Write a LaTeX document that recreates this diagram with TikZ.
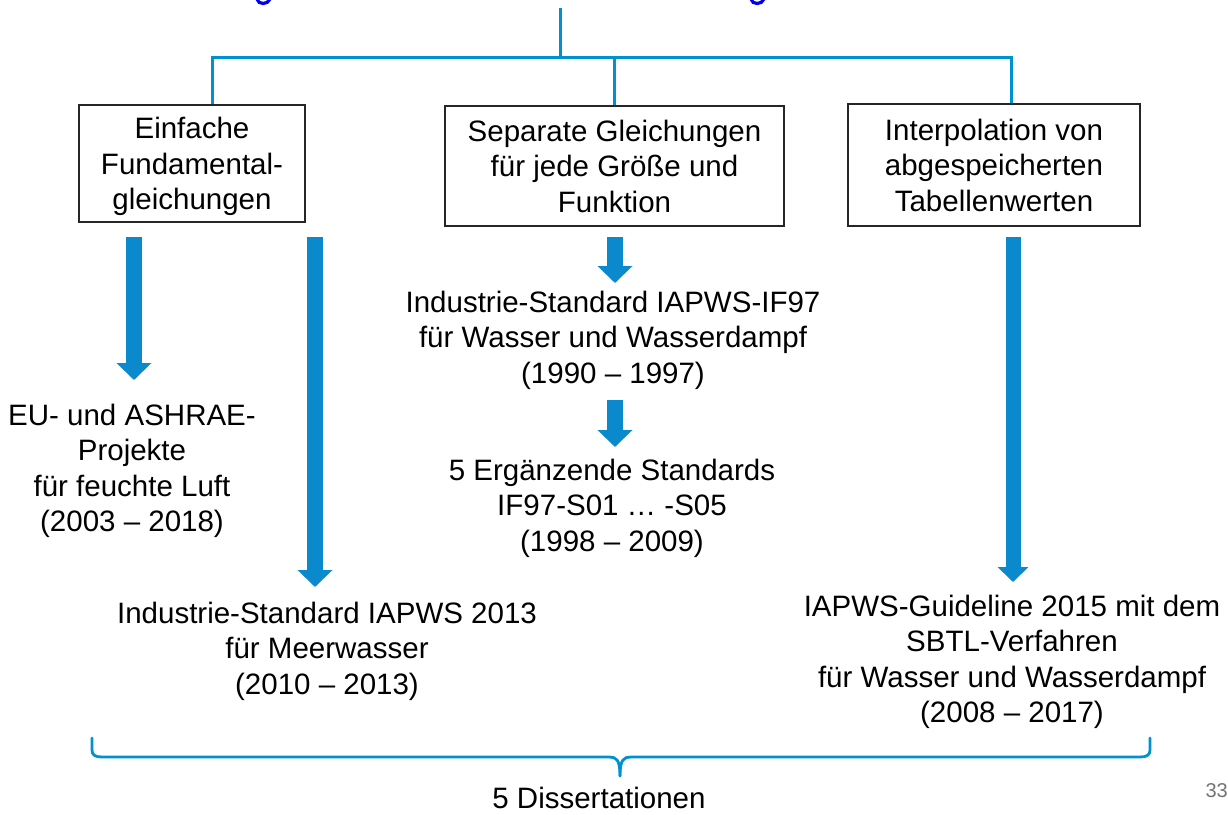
\documentclass[tikz,border=0pt]{standalone}
\usepackage{fontspec}
\setmainfont{Liberation Sans}
\usetikzlibrary{arrows.meta}
\definecolor{lineblue}{RGB}{0,145,208}
\definecolor{arrowblue}{RGB}{10,137,204}
\definecolor{titleblue}{RGB}{0,0,240}
\tikzset{
  every node/.style={font=\fontsize{29.5}{35.5}\selectfont, align=center, inner sep=0pt},
  treeline/.style={draw=lineblue, line width=3pt},
  catbox/.style={draw=black!85, line width=1.3pt, fill=white},
  fat/.style={draw=arrowblue, line width=16pt, -{Triangle[width=34pt,length=17pt]}},
  bracestyle/.style={draw=lineblue, line width=2.8pt, line cap=round, line join=round},
}
\begin{document}
\begin{tikzpicture}[x=1pt,y=-1pt]
\useasboundingbox (0,0) rectangle (1228,814);
% cut-off title descenders
\draw[titleblue, line width=3.2pt] (257,-1) .. controls (258,5) and (268,5) .. (270,-1);
\draw[titleblue, line width=3.2pt] (751,-1) .. controls (752,5) and (762,5) .. (764,-1);

% boxes
\node[catbox, minimum width=226pt, minimum height=117pt] (b1) at (192,163.5) {};
\node (b1t) at (192,166.5) {Einfache\\Fundamental-\\gleichungen};
\node[catbox, minimum width=339pt, minimum height=120pt] (b2) at (614.5,166)
  {Separate Gleichungen\\für jede Größe und\\Funktion};
\node[catbox, minimum width=292pt, minimum height=122pt] (b3) at (994,165)
  {Interpolation von\\abgespeicherten\\Tabellenwerten};

% tree connectors
\coordinate (top) at (560,8);
\coordinate (hub) at (560,57);
\coordinate (jl) at (212,57);
\coordinate (jm) at (614,57);
\coordinate (jr) at (1011,57);
\draw[treeline] (top) -- (hub);
\draw[treeline] ([xshift=-1.5pt]jl) -- ([xshift=1.5pt]jr);
\draw[treeline] (jl) -- (jl |- b1.north);
\draw[treeline] (jm) -- (jm |- b2.north);
\draw[treeline] (jr) -- (jr |- b3.north);

% result texts
\node (t1) at (132,471) {EU- und ASHRAE-\\Projekte\\für feuchte Luft\\(2003 – 2018)};
\node (t2) at (327,651) {Industrie-Standard IAPWS 2013\\für Meerwasser\\(2010 – 2013)};
\node (t3) at (613,340) {Industrie-Standard IAPWS-IF97\\für Wasser und Wasserdampf\\(1990 – 1997)};
\node (t4) at (612,508) {5 Ergänzende Standards\\IF97-S01 … -S05\\(1998 – 2009)};
\node (t5) at (1012,662) {IAPWS-Guideline 2015 mit dem\\SBTL-Verfahren\\für Wasser und Wasserdampf\\(2008 – 2017)};

% block arrows
\coordinate (a1s) at (134,237); \coordinate (a1e) at (134,380);
\coordinate (a2s) at (315,237); \coordinate (a2e) at (315,587);
\coordinate (a3s) at (615,237); \coordinate (a3e) at (615,283);
\coordinate (a4s) at (615,400); \coordinate (a4e) at (615,447);
\coordinate (a5s) at (1013,237); \coordinate (a5e) at (1013,582);
\draw[fat] (a1s) -- (a1e);
\draw[fat] (a2s) -- (a2e);
\draw[fat] (a3s) -- (a3e);
\draw[fat] (a4s) -- (a4e);
\draw[fat, line width=15pt, -{Triangle[width=30pt,length=15pt]}] (a5s) -- (a5e);

% brace
\coordinate (brl) at (92,738);
\coordinate (brr) at (1150,738);
\coordinate (brt) at (620,776);
\draw[bracestyle] (brl) -- (92,750) .. controls (92,755) and (95,757) .. (102,757)
  -- (609,757) .. controls (616,757) and (620,759) .. (brt);
\draw[bracestyle] (brr) -- (1150,750) .. controls (1150,755) and (1147,757) .. (1140,757)
  -- (631,757) .. controls (624,757) and (620,759) .. (brt);
\node (diss) at (599,798) {5 Dissertationen};

% page number
\node[font=\fontsize{20}{22}\selectfont, text=black!55, anchor=east] (pg) at (1228,791) {33};
\end{tikzpicture}
\end{document}
